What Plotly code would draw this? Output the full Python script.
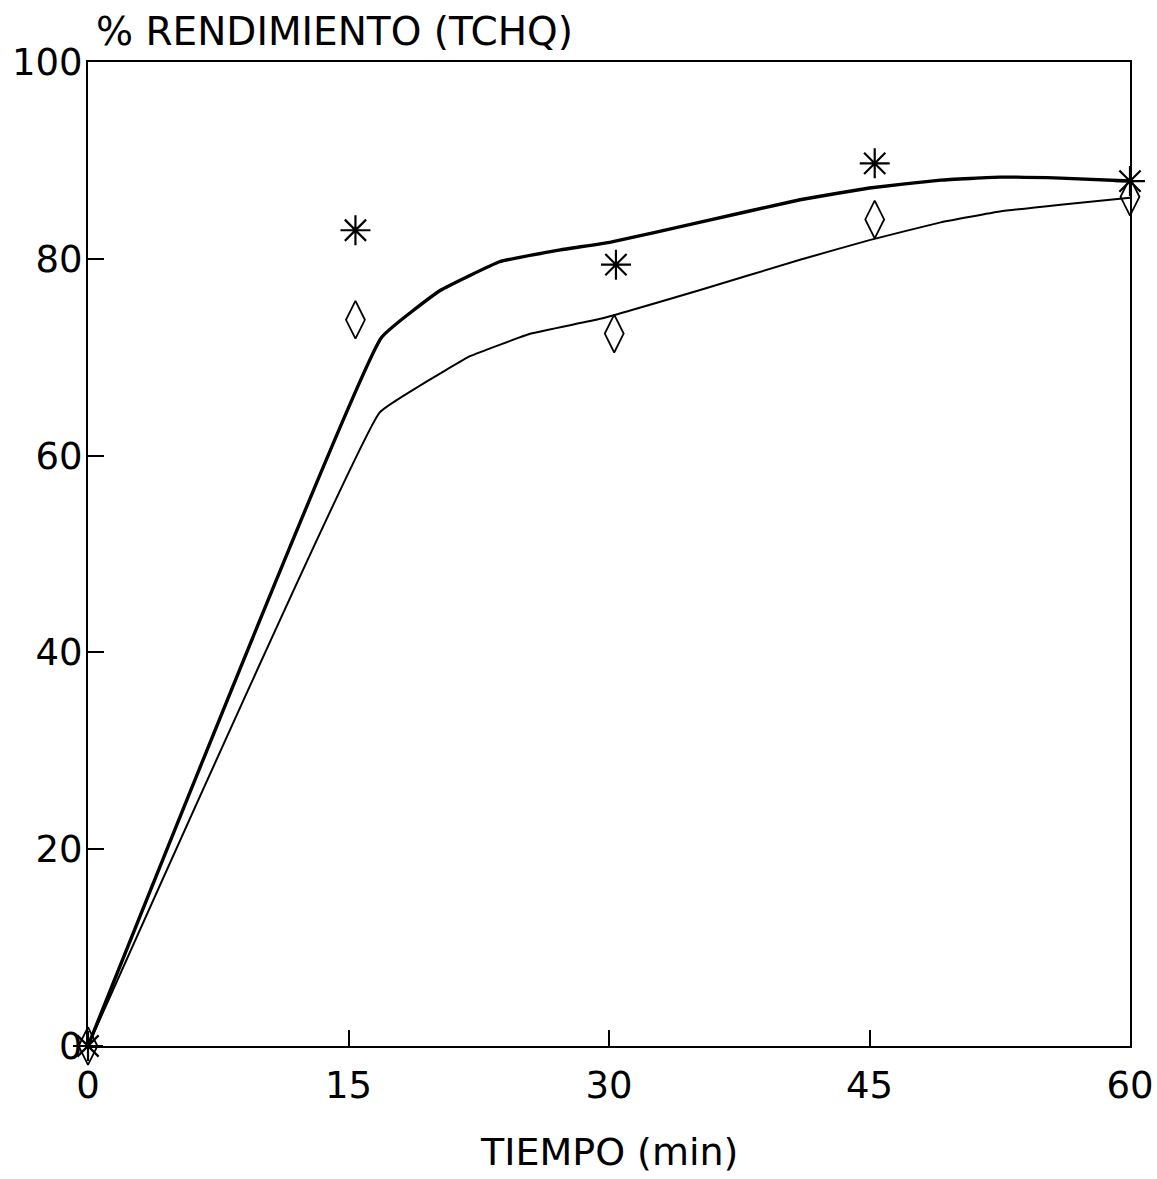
import plotly.graph_objects as go

# Measured points
t_star = [0, 15.4, 30.4, 45.3, 60]
y_star = [0, 82.9, 79.4, 89.7, 87.9]
t_diam = [0, 15.4, 30.3, 45.3, 60]
y_diam = [0, 73.8, 72.4, 84.0, 86.3]

# Fitted curves
t_fit_thick = [0, 16.9, 20.3, 23.7, 27.2, 30.1, 35.2, 41.0, 45.0, 49.1, 52.5, 56.0, 60]
y_fit_thick = [0, 72.0, 76.8, 79.7, 80.9, 81.7, 83.7, 86.0, 87.2, 88.0, 88.3, 88.2, 87.9]
t_fit_thin = [0, 16.8, 19.1, 22.0, 25.5, 29.5, 35.2, 41.0, 45.0, 49.1, 52.5, 56.0, 60]
y_fit_thin = [0, 64.4, 67.1, 70.1, 72.4, 73.9, 76.8, 79.9, 81.9, 83.7, 84.8, 85.5, 86.2]

x_ticks = [0, 15, 30, 45, 60]
y_ticks = [0, 20, 40, 60, 80, 100]

FONT = "DejaVu Sans, Arial, sans-serif"

fig = go.Figure()
fig.add_trace(go.Scatter(x=t_fit_thick, y=y_fit_thick, mode="lines",
                         line=dict(color="black", width=3.4, shape="spline", smoothing=0.3),
                         showlegend=False, cliponaxis=False))
fig.add_trace(go.Scatter(x=t_fit_thin, y=y_fit_thin, mode="lines",
                         line=dict(color="black", width=2, shape="spline", smoothing=0.3),
                         showlegend=False, cliponaxis=False))
fig.add_trace(go.Scatter(x=t_star, y=y_star, mode="markers",
                         marker=dict(symbol="asterisk-open", size=25, color="black",
                                     line=dict(color="black", width=2.2)),
                         showlegend=False, cliponaxis=False))
fig.add_trace(go.Scatter(x=t_diam, y=y_diam, mode="markers",
                         marker=dict(symbol="diamond-tall-open", size=27, color="black",
                                     line=dict(color="black", width=1.8)),
                         showlegend=False, cliponaxis=False))

fig.update_layout(
    width=1157, height=1179,
    margin=dict(l=88, r=27, t=62, b=133, autoexpand=False),
    paper_bgcolor="white", plot_bgcolor="white",
    font=dict(family=FONT, color="black", size=37),
    xaxis=dict(range=[0, 60], tickvals=x_ticks, ticktext=[str(v) for v in x_ticks],
               ticks="inside", ticklen=16, tickwidth=1.6, tickcolor="black",
               showline=True, linecolor="black", linewidth=2.2, mirror=True,
               showgrid=False, zeroline=False, ticklabelstandoff=5, automargin=False,
               tickfont=dict(size=37, family=FONT)),
    yaxis=dict(range=[0, 100], tickvals=y_ticks, ticktext=[str(v) for v in y_ticks],
               ticks="inside", ticklen=16, tickwidth=1.6, tickcolor="black",
               showline=True, linecolor="black", linewidth=2.2, mirror=True,
               showgrid=False, zeroline=False, ticklabelstandoff=-4, automargin=False,
               tickfont=dict(size=37, family=FONT)),
    annotations=[
        dict(text="% RENDIMIENTO (TCHQ)", xref="paper", yref="paper",
             x=0.006, y=1.0, xanchor="left", yanchor="bottom", yshift=6,
             showarrow=False, font=dict(size=39, family=FONT)),
        dict(text="TIEMPO (min)", xref="paper", yref="paper",
             x=0.5, y=0.0, xanchor="center", yanchor="top", yshift=-82,
             showarrow=False, font=dict(size=38, family=FONT)),
    ],
)

fig.write_html("out.html")
